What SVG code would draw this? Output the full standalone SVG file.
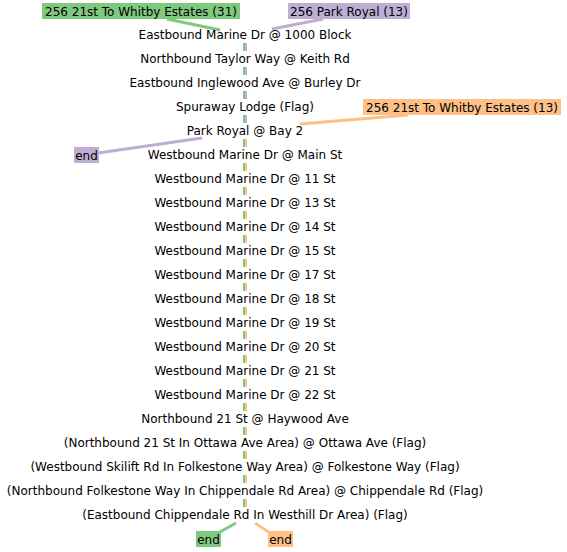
<svg xmlns="http://www.w3.org/2000/svg" width="567" height="552" viewBox="0 0 567 552">
<style>
text{font-family:"DejaVu Sans",sans-serif;font-size:12px;fill:#000}
.s{text-anchor:middle}
.g{fill:#7fc97f}.p{fill:#beaed4}.o{fill:#fdc086}
.lg{stroke:#7fc97f;stroke-width:3;fill:none}
.lp{stroke:#beaed4;stroke-width:3;fill:none}
.lo{stroke:#fdc086;stroke-width:3;fill:none}
.d{stroke-width:2;stroke-dasharray:8 16}
</style>
<rect width="567" height="552" fill="#fff"/>
<g id="connectors">
<path class="lg" d="M167 19 L220 30"/>
<path class="lp" d="M323 19 L272 29"/>
<path class="lo" d="M408 115 L300 124"/>
<path class="lp" d="M202 138 L98 153"/>
<path class="lg" d="M236 523 L218 533"/>
<path class="lo" d="M255 523 L270 533"/>
<path class="lg d" d="M244 43 V515"/>
<path class="lp d" d="M246 43 V131"/>
<path class="lo d" d="M246 139 V515"/>
</g>
<g id="start-green"><rect class="g" x="42" y="3" width="198" height="16"/><text x="141" y="16" class="s">256 21st To Whitby Estates (31)</text></g>
<g id="start-purple"><rect class="p" x="288" y="3" width="122" height="16"/><text x="349" y="16" class="s">256 Park Royal (13)</text></g>
<g id="start-orange"><rect class="o" x="363" y="99" width="198" height="16"/><text x="462" y="112" class="s">256 21st To Whitby Estates (13)</text></g>
<g id="end-purple"><rect class="p" x="74" y="147" width="25" height="16"/><text x="86.5" y="160" class="s">end</text></g>
<g id="end-green"><rect class="g" x="196" y="531" width="25" height="16"/><text x="208.5" y="544" class="s">end</text></g>
<g id="end-orange"><rect class="o" x="268" y="531" width="25" height="16"/><text x="280.5" y="544" class="s">end</text></g>
<g id="s0"><text x="245" y="39" class="s">Eastbound Marine Dr @ 1000 Block</text></g>
<g id="s1"><text x="245" y="63" class="s">Northbound Taylor Way @ Keith Rd</text></g>
<g id="s2"><text x="245" y="87" class="s">Eastbound Inglewood Ave @ Burley Dr</text></g>
<g id="s3"><text x="245" y="111" class="s">Spuraway Lodge (Flag)</text></g>
<g id="s4"><text x="245" y="135" class="s">Park Royal @ Bay 2</text></g>
<g id="s5"><text x="245" y="159" class="s">Westbound Marine Dr @ Main St</text></g>
<g id="s6"><text x="245" y="183" class="s">Westbound Marine Dr @ 11 St</text></g>
<g id="s7"><text x="245" y="207" class="s">Westbound Marine Dr @ 13 St</text></g>
<g id="s8"><text x="245" y="231" class="s">Westbound Marine Dr @ 14 St</text></g>
<g id="s9"><text x="245" y="255" class="s">Westbound Marine Dr @ 15 St</text></g>
<g id="s10"><text x="245" y="279" class="s">Westbound Marine Dr @ 17 St</text></g>
<g id="s11"><text x="245" y="303" class="s">Westbound Marine Dr @ 18 St</text></g>
<g id="s12"><text x="245" y="327" class="s">Westbound Marine Dr @ 19 St</text></g>
<g id="s13"><text x="245" y="351" class="s">Westbound Marine Dr @ 20 St</text></g>
<g id="s14"><text x="245" y="375" class="s">Westbound Marine Dr @ 21 St</text></g>
<g id="s15"><text x="245" y="399" class="s">Westbound Marine Dr @ 22 St</text></g>
<g id="s16"><text x="245" y="423" class="s">Northbound 21 St @ Haywood Ave</text></g>
<g id="s17"><text x="245" y="447" class="s">(Northbound 21 St In Ottawa Ave Area) @ Ottawa Ave (Flag)</text></g>
<g id="s18"><text x="245" y="471" class="s">(Westbound Skilift Rd In Folkestone Way Area) @ Folkestone Way (Flag)</text></g>
<g id="s19"><text x="245" y="495" class="s">(Northbound Folkestone Way In Chippendale Rd Area) @ Chippendale Rd (Flag)</text></g>
<g id="s20"><text x="245" y="519" class="s">(Eastbound Chippendale Rd In Westhill Dr Area) (Flag)</text></g>
</svg>
